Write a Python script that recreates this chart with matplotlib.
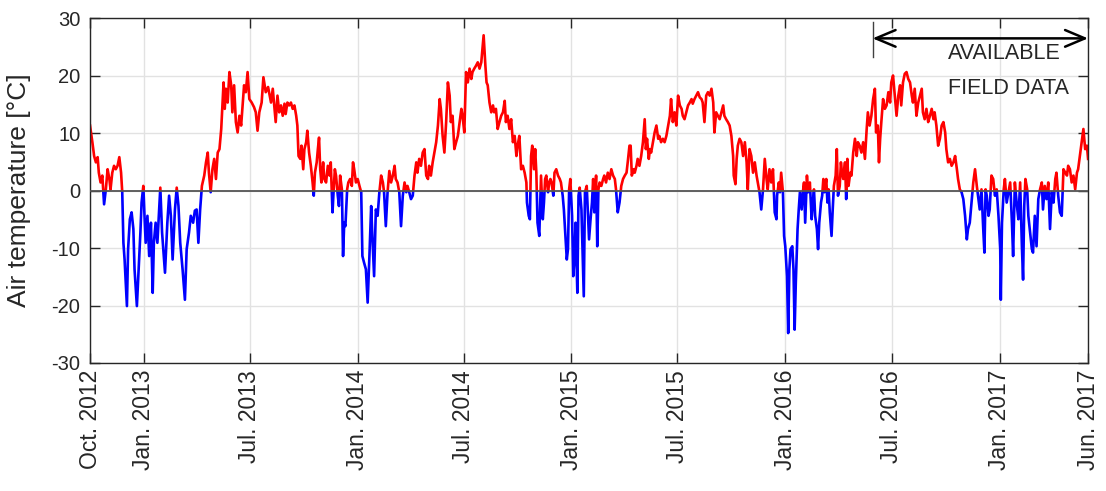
# Daily air temperature, Oct. 2012 - Jun. 2017
# positive values drawn in red, negative values in blue
import numpy as np
import matplotlib
matplotlib.use('Agg')
import matplotlib.pyplot as plt
import matplotlib.dates as mdates
import matplotlib.transforms as mtransforms
from matplotlib.patches import Rectangle

plt.rcParams['font.family'] = ['Liberation Sans', 'DejaVu Sans']
plt.rcParams['axes.unicode_minus'] = False

# series start / end
start = np.datetime64('2012-10-01')
end = np.datetime64('2017-06-01')

# days after start and air temperature (deg C)
day = [0, 4, 7, 10, 13, 15, 18, 21, 24, 27, 30, 33, 35, 38, 41, 44, 47, 50, 53, 55,
       57, 59, 63, 65, 68, 71, 74, 76, 80, 83, 86, 88, 91, 93, 95, 98, 101, 104, 107, 109,
       112, 115, 120, 123, 125, 128, 132, 135, 138, 141, 145, 148, 151,
       154, 158, 162, 165, 169, 172, 176, 179, 182, 185, 188, 191, 195, 198, 201, 203, 206,
       209, 212, 215, 218, 221, 224, 228, 230, 232, 235, 238, 241, 243, 246, 249, 252, 255,
       258, 260, 263, 266, 269, 272, 276, 280, 283, 286, 289, 293, 296, 300, 304,
       309, 312, 315, 317, 320, 323, 326, 329, 332, 334, 337, 340, 343, 346, 349, 352, 354,
       356, 359, 361, 364, 366, 369, 371, 374, 377, 380, 382, 384, 387, 389, 391, 393, 395,
       398, 400, 403, 406, 409, 411, 414, 416, 418, 420, 423, 425, 427, 430, 432, 434, 436,
       439, 441, 444, 447, 449, 451, 454, 457, 460,
       463, 465, 468, 471, 474, 477, 480, 482, 485, 488, 491, 494, 497, 500, 502, 505, 508,
       511, 514, 517, 520, 522, 525, 528, 531, 534, 537, 540, 542, 545, 548, 551, 554, 557,
       559, 562, 565, 568, 571, 574, 577, 579, 582, 585, 588, 591, 594, 597, 599, 602, 605,
       608, 611, 614,
       616, 619, 622, 625, 628, 631, 634, 636, 639, 642, 645, 648, 651, 653, 656, 659, 662,
       665, 668, 670, 672, 675, 677, 679, 682, 685, 688, 690, 693, 696, 699, 702, 705, 708,
       710, 713, 716, 719, 722, 725, 728, 730, 733, 736, 739, 742, 745, 746, 749, 751, 753,
       755, 758, 760, 762, 764, 767,
       770, 773, 775, 777, 779, 782, 784, 786, 788, 791, 793, 796, 799, 802, 804, 807, 809,
       811, 814, 816, 818, 820, 823, 825, 827, 829, 832, 834, 836, 839, 841, 843, 845, 848,
       850, 852, 855, 857, 859, 861, 864, 866, 868, 870, 873, 876, 878, 881, 884, 887, 890,
       893, 896, 898, 901, 904, 907, 910, 913, 916, 918, 921,
       923, 925, 928, 930, 933, 935, 938, 941, 944, 947, 949, 951, 954, 956, 958, 961, 964,
       967, 970, 972, 975, 978, 981, 984, 987, 990, 992, 995, 998, 1001, 1004, 1007, 1010,
       1012, 1015, 1018, 1021, 1024, 1027, 1029, 1032, 1035, 1038, 1041, 1044, 1046, 1049,
       1052, 1055, 1058, 1061, 1064, 1066, 1069, 1072, 1075,
       1078, 1081, 1083, 1086, 1089, 1092, 1095, 1098, 1099, 1102, 1104, 1106, 1109, 1112,
       1115, 1118, 1121, 1123, 1126, 1129, 1132, 1135, 1138, 1140, 1143, 1146, 1149, 1152,
       1155, 1157, 1160, 1163, 1166, 1169, 1172, 1173, 1176, 1178, 1180, 1183, 1185, 1187,
       1190, 1192, 1194, 1196, 1199, 1201, 1203, 1205, 1208, 1210, 1212, 1215, 1217, 1219,
       1221, 1224, 1226, 1229,
       1232, 1234, 1236, 1238, 1241, 1243, 1245, 1248, 1250, 1252, 1254, 1257, 1259, 1261,
       1263, 1266, 1268, 1270, 1273, 1275, 1277, 1280, 1282, 1284, 1286, 1289, 1291, 1293,
       1295, 1298, 1300, 1303, 1306, 1309, 1311, 1314, 1317, 1320, 1323, 1326, 1328, 1331,
       1334, 1337, 1340, 1342, 1345, 1347, 1349, 1351, 1354, 1357, 1360, 1363, 1366, 1368,
       1371, 1374, 1377, 1380, 1383,
       1385, 1388, 1391, 1394, 1397, 1400, 1403, 1405, 1408, 1411, 1414, 1417, 1420, 1422,
       1425, 1428, 1431, 1434, 1437, 1440, 1442, 1445, 1448, 1451, 1454, 1457, 1460, 1462,
       1465, 1468, 1471, 1474, 1477, 1480, 1482, 1485, 1488, 1491, 1494, 1497, 1499, 1502,
       1505, 1508, 1511, 1514, 1516, 1519, 1522, 1525, 1527, 1529, 1531, 1534, 1536,
       1539, 1542, 1545, 1548, 1551, 1554, 1555, 1557, 1560, 1562, 1565, 1568, 1571, 1574,
       1576, 1579, 1582, 1585, 1588, 1591, 1593, 1595, 1597, 1600, 1602, 1605, 1608, 1610,
       1613, 1616, 1619, 1622, 1625, 1627, 1630, 1633, 1636, 1639, 1642, 1645, 1648, 1650,
       1653, 1656, 1659, 1662, 1665, 1668, 1670, 1673, 1676, 1679, 1682, 1685, 1687, 1690,
       1693, 1696, 1699, 1702, 1704]

temp = [11.3, 8.4, 6.0, 4.9, 5.8, 3.1, 1.4, 2.6, -2.4, 0.2, 3.7, 2.0, 0.2, 3.1, 4.3, 3.7, 4.3, 5.8, 3.1, -0.3,
        -9.1, -12.0, -20.1, -10.2, -5.0, -3.8, -6.7, -13.7, -20.1, -13.7, -7.3, -2.1, 0.8, -4.4, -9.1, -4.4, -11.4, -5.6, -17.8, -9.1,
        -5.6, -9.1, 0.5, -7.3, -10.2, -14.3, -5.6, -0.9, -4.4, -12.0, -3.3, 0.5, -2.7,
        -9.1, -13.7, -19.0, -10.2, -7.3, -4.4, -5.6, -3.5, -3.3, -9.1, -3.3, 0.8, 2.6, 4.9, 6.6, 3.1, -0.3,
        3.7, 5.5, 2.0, 6.6, 7.2, 10.7, 18.8, 14.2, 17.7, 15.3, 20.6, 18.3, 13.6, 18.3, 11.9, 10.1, 13.0,
        11.3, 14.2, 18.3, 17.1, 20.6, 15.9, 15.3, 14.5, 13.6, 10.4, 13.6, 15.3, 19.7, 17.1, 18.0,
        15.3, 17.7, 14.2, 11.9, 16.5, 13.6, 14.8, 13.0, 15.1, 13.3, 15.3, 14.8, 15.3, 14.2, 14.8, 13.0, 11.3,
        6.0, 5.5, 7.8, 3.7, 7.2, 8.4, 10.4, 6.6, 4.3, 1.4, -0.9, 3.1, 4.9, 7.2, 9.2, 3.7, 1.4,
        4.9, 2.0, 1.4, 4.3, 2.6, 4.9, -3.8, 0.2, 3.7, 2.6, -0.9, -2.7, 2.6, 0.2, -11.4, -5.6, -6.2,
        0.2, 1.4, 2.0, 0.8, 4.9, 3.7, 1.4, 2.0, 0.8,
        -0.3, -11.4, -12.6, -13.7, -19.5, -11.4, -2.7, -7.9, -14.9, -3.3, -4.4, -0.3, 2.6, 1.4, -0.3, -6.2, -0.3,
        3.4, 1.4, 2.6, 4.3, 2.0, 1.4, -0.3, -6.2, -0.9, 1.4, -0.3, 0.8, -0.3, -1.5, -0.9, 2.6, 4.9,
        3.1, 5.5, 4.3, 6.6, 7.2, 2.6, 2.0, 4.3, 2.6, 4.9, 6.6, 8.4, 11.3, 15.9, 14.2, 9.5, 6.6,
        11.9, 18.8, 16.5,
        11.9, 13.0, 7.2, 8.4, 9.5, 11.9, 14.2, 13.0, 10.1, 20.6, 18.8, 21.2, 19.4, 20.6, 21.2, 21.7, 22.3,
        21.2, 22.3, 24.7, 27.0, 21.7, 18.8, 18.3, 15.3, 13.6, 14.8, 13.6, 14.2, 10.7, 11.9, 13.0, 13.6, 15.6,
        11.9, 13.0, 10.7, 12.4, 8.4, 9.5, 6.0, 7.8, 9.5, 3.7, 4.3, 3.1, 1.4, -2.1, -4.4, -5.0, 6.0,
        7.8, 3.7, 7.2, 3.1, -5.6, -7.9,
        2.6, -5.0, -2.1, 2.0, 2.6, -0.3, 1.4, 2.0, 1.4, -0.9, 3.1, 3.7, 2.6, 2.0, 1.4, -0.9, -3.3,
        -6.7, -12.0, -10.2, 0.2, 2.0, -4.4, -14.9, -12.0, -5.6, -17.8, -0.9, 0.5, -3.3, -10.8, -18.4, -0.3, 0.8,
        -3.8, -8.5, -4.4, -2.1, 2.0, -3.8, 2.6, -9.7, 0.2, 1.4, 0.8, 2.0, 2.6, 1.4, 3.1, 2.0, 3.7,
        2.6, 2.0, 0.2, -3.8, -2.1, 0.8, 2.0, 2.6, 3.1, 4.9, 7.8,
        7.8, 2.6, 3.7, 3.1, 4.3, 5.5, 4.3, 6.0, 8.4, 12.4, 7.2, 9.0, 5.5, 7.2, 6.6, 8.4, 10.1,
        11.3, 9.0, 9.5, 8.4, 9.0, 8.4, 9.5, 11.3, 13.0, 15.9, 11.9, 13.6, 11.3, 16.5, 14.8, 14.2,
        13.0, 12.4, 13.6, 14.8, 15.3, 15.9, 15.1, 15.9, 16.5, 17.1, 16.2, 15.9, 15.3, 11.9,
        16.5, 17.1, 16.5, 17.7, 15.3, 10.1, 13.6, 13.0, 12.4,
        13.6, 14.8, 13.0, 12.4, 11.9, 11.3, 9.5, 6.0, 2.6, 1.1, 5.5, 7.8, 9.0, 8.4,
        6.0, 8.4, 4.9, 0.2, 7.2, 6.0, 3.1, 4.9, 2.6, 1.4, -0.3, -3.3, 0.2, 5.5,
        2.0, 0.2, 3.7, 1.4, 3.7, -3.8, -5.0, -0.9, 1.4, -0.3, 3.1, -0.3, -7.9, -9.7,
        -14.9, -24.8, -13.7, -10.2, -9.7, -13.7, -24.2, -16.0, -6.7, -3.3, -0.3, -3.3, -0.3, 1.4,
        -5.6, 2.6, -0.3, 1.4,
        -5.0, -2.1, 0.2, -4.4, -6.7, -10.2, -5.6, -2.1, -0.9, 2.0, -0.3, 2.0, -2.1, 0.2,
        -3.8, -7.9, -3.3, 0.8, 2.6, 7.2, -0.9, 0.8, 4.9, 3.1, 2.0, 4.9, -1.5, 5.5,
        0.8, 3.1, 2.6, 6.6, 9.0, 6.0, 8.4, 7.8, 6.6, 8.4, 5.5, 10.7, 13.6, 11.3,
        13.0, 15.9, 17.7, 10.1, 11.3, 4.9, 9.0, 11.9, 15.9, 14.2, 14.8, 17.1, 15.3, 18.8,
        20.0, 16.5, 13.0, 16.5, 18.3,
        14.8, 18.8, 20.3, 20.6, 19.4, 18.8, 16.5, 15.3, 17.7, 13.0, 15.3, 16.5, 17.7, 13.6,
        12.4, 14.2, 11.9, 13.0, 14.2, 12.4, 13.6, 11.3, 7.8, 9.0, 11.3, 11.9, 10.1, 7.2,
        4.9, 5.5, 4.3, 4.9, 6.0, 3.7, 2.0, 0.2, -0.3, -1.5, -4.4, -8.5, -6.7, -5.6,
        -2.1, 1.4, 3.7, 0.8, -0.9, -3.3, 0.2, -6.7, -10.8, 0.2, -0.9, -4.4, -3.3,
        2.6, 2.0, -0.9, 0.2, -4.4, -10.2, -19.0, -5.6, 0.2, 2.0, -2.1, -0.3, 1.4, -5.6,
        -11.4, 1.4, -2.1, -5.0, 1.4, -9.7, -15.5, -2.7, 2.0, 0.2, -4.4, -7.3, -10.2, -10.8,
        -4.4, -9.7, -1.5, 0.2, 1.4, -3.3, 0.8, -1.5, 1.4, -6.7, -0.3, -2.1, 2.0, 3.1,
        -0.9, -3.8, -4.4, 3.7, 3.1, 2.6, 4.3, 3.7, 1.4, 2.6, 0.2, 3.1, 3.7, 6.0,
        8.4, 10.7, 7.2, 7.8, 5.5]

# axis ticks
tick_dates = ['2012-10-01', '2013-01-01', '2013-07-01', '2014-01-01', '2014-07-01',
              '2015-01-01', '2015-07-01', '2016-01-01', '2016-07-01', '2017-01-01',
              '2017-06-01']
y_ticks = [-30, -20, -10, 0, 10, 20, 30]

# start of the field data period (arrow) and where its label sits
field_start = '2016-05-29'
label_start = '2016-10-04'

dates = start + np.array(day).astype('timedelta64[D]')

fig = plt.figure(figsize=(11.06, 4.91), dpi=100)
ax = fig.add_axes([0.0814, 0.2607, 0.9024, 0.7026])

# same line twice: clipped above zero in red, below zero in blue
red, = ax.plot(dates, temp, color='#ff0000', lw=1.9, zorder=2)
blue, = ax.plot(dates, temp, color='#0000ff', lw=1.9, zorder=2)
ydata_xaxes = mtransforms.blended_transform_factory(ax.transAxes, ax.transData)
red.set_clip_path(Rectangle((0, 0), 1, 100, transform=ydata_xaxes))
blue.set_clip_path(Rectangle((0, -100), 1, 100, transform=ydata_xaxes))

ax.axhline(0, color='#555555', lw=1.3, zorder=3)

ax.set_xlim(start, end)
ax.set_ylim(-30, 30)
ax.set_yticks(y_ticks)
ax.set_xticks(mdates.date2num(np.array(tick_dates, dtype='datetime64[D]')))
ax.xaxis.set_major_formatter(mdates.DateFormatter('%b. %Y'))

ax.grid(True, color='#e2e2e2', lw=1)
ax.set_axisbelow(True)
ax.tick_params(axis='both', direction='in', length=7, width=1, color='#262626',
               top=True, right=True, labelcolor='#262626')
ax.tick_params(axis='x', labelrotation=90, labelsize=16.5, pad=5)
ax.tick_params(axis='y', labelsize=14.5, pad=7)
for s in ax.spines.values():
    s.set_color('#262626')
    s.set_linewidth(1.0)

ax.set_ylabel('Air temperature [°C]', fontsize=19, color='#262626')
ax.yaxis.set_label_coords(-0.059, 0.5)

# "available field data" arrow
xdata_yaxes = mtransforms.blended_transform_factory(ax.transData, ax.transAxes)
fs = mdates.date2num(np.datetime64(field_start))
ax.annotate('', xy=(mdates.date2num(end), 0.941), xycoords=xdata_yaxes,
            xytext=(fs, 0.941), textcoords=xdata_yaxes, annotation_clip=False,
            arrowprops=dict(arrowstyle='<->,head_length=0.95,head_width=0.4',
                            lw=1.8, color='black', shrinkA=0, shrinkB=0,
                            mutation_scale=15))
ax.axvline(fs, ymin=0.888, ymax=0.989, color='#404040', lw=1)
lx = mdates.date2num(np.datetime64(label_start))
ax.text(lx, 0.896, 'AVAILABLE', transform=xdata_yaxes, fontsize=15.5,
        va='center', ha='left', color='#262626')
ax.text(lx, 0.797, 'FIELD DATA', transform=xdata_yaxes, fontsize=15.5,
        va='center', ha='left', color='#262626')

fig.savefig('out.png', dpi=100)
